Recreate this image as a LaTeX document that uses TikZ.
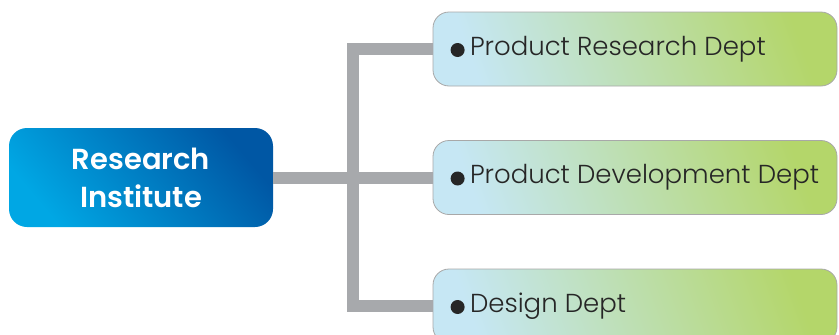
\documentclass[tikz,border=0pt]{standalone}
\usepackage{fontspec}
\setmainfont{Poppins}
\newfontfamily\lightfont{Poppins Light}
\newfontfamily\semifont{Poppins SemiBold}
\definecolor{lineg}{HTML}{A7A9AC}
\definecolor{blueA}{HTML}{00A7E4}
\definecolor{blueB}{HTML}{0057A4}
\definecolor{greenA}{HTML}{C6E7F4}
\definecolor{greenB}{HTML}{B4D66A}
\definecolor{bord}{HTML}{A8A8A8}
\newcommand{\depttext}[1]{\makebox[330pt][l]{#1}}
\tikzset{
  mainbox/.style={rounded corners=18pt, minimum width=264pt, minimum height=99pt,
    top color=blueB, bottom color=blueA, shading angle=-50, text=white, align=center,
    font=\fontsize{29pt}{38pt}\selectfont\semifont, inner sep=0pt},
  deptbox/.style={rounded corners=16pt, draw=bord, line width=0.8pt, inner xsep=37pt,
    minimum height=74pt, top color=greenB, bottom color=greenA, shading angle=-70,
    font=\fontsize{26pt}{30pt}\selectfont\lightfont, text=black!85},
  conn/.style={lineg, line width=12pt, line join=miter},
  dot/.style={fill=black!85}
}
\begin{document}
\begin{tikzpicture}[x=1pt,y=1pt]
\useasboundingbox (0,0) rectangle (839,-335);
\clip (0,0) rectangle (839,-335);
\node[mainbox] (ri) at (141,-177.5) {Research\\Institute};
\node[deptbox] (d1) at (635,-49) {\depttext{Product Research Dept}};
\node[deptbox] (d2) at (635,-177.5) {\depttext{Product Development Dept}};
\node[deptbox] (d3) at (635,-306) {\depttext{Design Dept}};
\coordinate (jx) at (353,-178);
\draw[conn] (d1.west) -- (d1.west -| jx) -- (d3.west -| jx) -- (d3.west);
\draw[conn] (ri.east) -- (d2.west);
\fill[dot] ([xshift=25pt,yshift=-1pt]d1.west) circle (7pt);
\fill[dot] ([xshift=25pt,yshift=-1pt]d2.west) circle (7pt);
\fill[dot] ([xshift=25pt,yshift=-1pt]d3.west) circle (7pt);
\end{tikzpicture}
\end{document}
